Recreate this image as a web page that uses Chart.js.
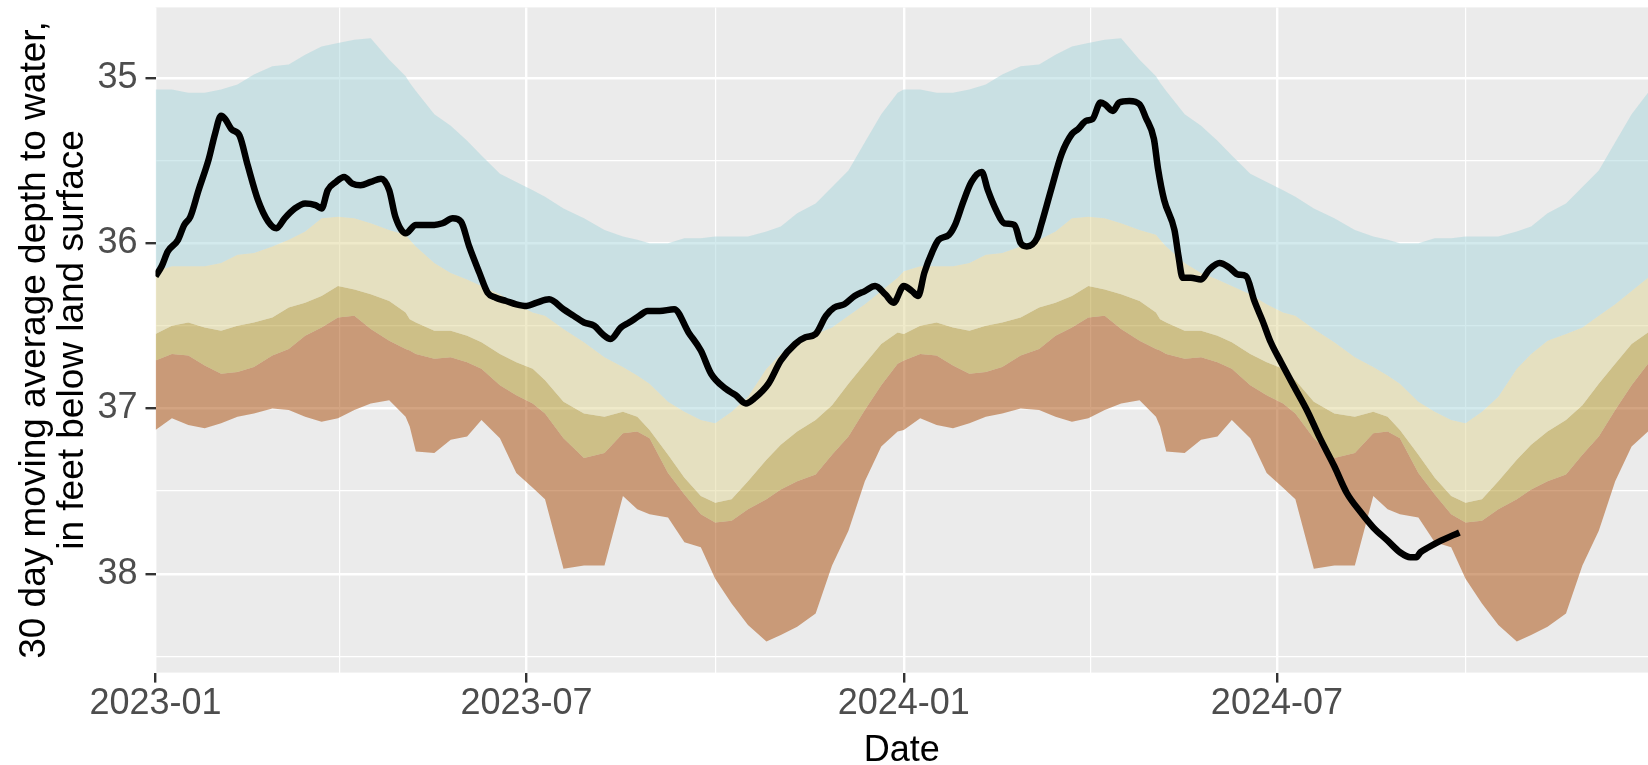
<!DOCTYPE html>
<html>
<head>
<meta charset="utf-8">
<title>Depth to water</title>
<script src="https://cdn.jsdelivr.net/npm/chart.js@4.4.0/dist/chart.umd.min.js"></script>
<style>
    html, body { margin: 0; padding: 0; background: #ffffff; }
    #wrap { width: 1648px; height: 765px; }
</style>
</head>
<body>
<div id="wrap"><canvas id="depthChart" width="1648" height="765"></canvas></div>
<script>
// 30 day moving average depth to water, against the historical bands

// dates shared by the band edges
const bandDates = [
    '2023-01-01','2023-01-09','2023-01-17','2023-01-25','2023-02-02','2023-02-10','2023-02-18','2023-02-27',
    '2023-03-07','2023-03-15','2023-03-23','2023-03-31','2023-04-08','2023-04-16','2023-04-25','2023-05-03',
    '2023-05-05','2023-05-08','2023-05-17','2023-05-25','2023-06-02','2023-06-09','2023-06-18','2023-06-26',
    '2023-07-04','2023-07-10','2023-07-19','2023-07-29','2023-08-08','2023-08-17','2023-08-24','2023-08-30',
    '2023-09-08','2023-09-16','2023-09-24','2023-10-01','2023-10-09','2023-10-17','2023-10-26','2023-11-02',
    '2023-11-10','2023-11-19','2023-11-27','2023-12-05','2023-12-13','2023-12-21','2023-12-29',
    '2024-01-01','2024-01-09','2024-01-17','2024-01-25','2024-02-02','2024-02-10','2024-02-18','2024-02-27',
    '2024-03-07','2024-03-15','2024-03-23','2024-03-31','2024-04-08','2024-04-16','2024-04-25','2024-05-03',
    '2024-05-05','2024-05-08','2024-05-17','2024-05-25','2024-06-02','2024-06-09','2024-06-18','2024-06-26',
    '2024-07-04','2024-07-10','2024-07-19','2024-07-29','2024-08-08','2024-08-17','2024-08-24','2024-08-30',
    '2024-09-08','2024-09-16','2024-09-24','2024-10-01','2024-10-09','2024-10-17','2024-10-26','2024-11-02',
    '2024-11-10','2024-11-19','2024-11-27','2024-12-05','2024-12-13','2024-12-21','2024-12-29'
];

// top of the blue band
const edgeA = [
    35.07, 35.07, 35.09, 35.09, 35.07, 35.04, 34.98, 34.93, 34.92, 34.86, 34.81, 34.79, 34.77, 34.76, 34.89, 34.99,
    35.03, 35.08, 35.22, 35.29, 35.38, 35.47, 35.58, 35.63, 35.68, 35.72, 35.79, 35.85, 35.92, 35.96, 35.98, 36.00,
    36.00, 35.97, 35.97, 35.96, 35.96, 35.96, 35.93, 35.90, 35.82, 35.76, 35.66, 35.56, 35.39, 35.22, 35.09,
    35.07, 35.07, 35.09, 35.09, 35.07, 35.04, 34.98, 34.93, 34.92, 34.86, 34.81, 34.79, 34.77, 34.76, 34.89, 34.99,
    35.03, 35.08, 35.22, 35.29, 35.38, 35.47, 35.58, 35.63, 35.68, 35.72, 35.79, 35.85, 35.92, 35.96, 35.98, 36.00,
    36.00, 35.97, 35.97, 35.96, 35.96, 35.96, 35.93, 35.90, 35.82, 35.76, 35.66, 35.56, 35.39, 35.22, 35.09
];
// blue / tan edge
const edgeB = [
    36.17, 36.14, 36.14, 36.14, 36.12, 36.07, 36.06, 36.02, 35.98, 35.93, 35.85, 35.84, 35.85, 35.88, 35.92, 35.95,
    35.98, 36.02, 36.12, 36.18, 36.22, 36.26, 36.31, 36.37, 36.42, 36.44, 36.52, 36.60, 36.69, 36.75, 36.80, 36.85,
    36.96, 37.02, 37.07, 37.09, 37.02, 36.93, 36.76, 36.67, 36.59, 36.55, 36.51, 36.44, 36.37, 36.29, 36.21,
    36.17, 36.14, 36.14, 36.14, 36.12, 36.07, 36.06, 36.02, 35.98, 35.93, 35.85, 35.84, 35.85, 35.88, 35.92, 35.95,
    35.98, 36.02, 36.12, 36.18, 36.22, 36.26, 36.31, 36.37, 36.42, 36.44, 36.52, 36.60, 36.69, 36.75, 36.80, 36.85,
    36.96, 37.02, 37.07, 37.09, 37.02, 36.93, 36.76, 36.67, 36.59, 36.55, 36.51, 36.44, 36.37, 36.29, 36.21
];
// tan / olive edge
const edgeC = [
    36.55, 36.50, 36.48, 36.51, 36.53, 36.50, 36.48, 36.45, 36.39, 36.36, 36.32, 36.26, 36.28, 36.31, 36.35, 36.42,
    36.46, 36.48, 36.53, 36.53, 36.56, 36.60, 36.67, 36.72, 36.76, 36.83, 36.96, 37.03, 37.05, 37.02, 37.05, 37.13,
    37.28, 37.42, 37.53, 37.57, 37.55, 37.44, 37.31, 37.22, 37.14, 37.07, 36.98, 36.85, 36.73, 36.61, 36.54,
    36.55, 36.50, 36.48, 36.51, 36.53, 36.50, 36.48, 36.45, 36.39, 36.36, 36.32, 36.26, 36.28, 36.31, 36.35, 36.42,
    36.46, 36.48, 36.53, 36.53, 36.56, 36.60, 36.67, 36.72, 36.76, 36.83, 36.96, 37.03, 37.05, 37.02, 37.05, 37.13,
    37.28, 37.42, 37.53, 37.57, 37.55, 37.44, 37.31, 37.22, 37.14, 37.07, 36.98, 36.85, 36.73, 36.61, 36.54
];
// olive / brown edge
const edgeD = [
    36.71, 36.67, 36.68, 36.74, 36.79, 36.78, 36.75, 36.68, 36.64, 36.56, 36.51, 36.45, 36.44, 36.52, 36.59, 36.64,
    36.65, 36.67, 36.70, 36.69, 36.72, 36.76, 36.86, 36.92, 36.97, 37.03, 37.18, 37.30, 37.27, 37.15, 37.14, 37.18,
    37.39, 37.52, 37.64, 37.69, 37.68, 37.61, 37.55, 37.49, 37.44, 37.40, 37.28, 37.17, 37.01, 36.86, 36.73,
    36.71, 36.67, 36.68, 36.74, 36.79, 36.78, 36.75, 36.68, 36.64, 36.56, 36.51, 36.45, 36.44, 36.52, 36.59, 36.64,
    36.65, 36.67, 36.70, 36.69, 36.72, 36.76, 36.86, 36.92, 36.97, 37.03, 37.18, 37.30, 37.27, 37.15, 37.14, 37.18,
    37.39, 37.52, 37.64, 37.69, 37.68, 37.61, 37.55, 37.49, 37.44, 37.40, 37.28, 37.17, 37.01, 36.86, 36.73
];
// bottom of the brown band
const edgeE = [
    37.13, 37.06, 37.10, 37.12, 37.09, 37.05, 37.03, 37.00, 37.01, 37.05, 37.08, 37.06, 37.01, 36.97, 36.95, 37.05,
    37.11, 37.26, 37.27, 37.19, 37.17, 37.07, 37.18, 37.39, 37.48, 37.55, 37.97, 37.95, 37.95, 37.53, 37.61, 37.64,
    37.66, 37.81, 37.84, 38.03, 38.18, 38.31, 38.41, 38.37, 38.32, 38.24, 37.95, 37.74, 37.44, 37.23, 37.14,
    37.13, 37.06, 37.10, 37.12, 37.09, 37.05, 37.03, 37.00, 37.01, 37.05, 37.08, 37.06, 37.01, 36.97, 36.95, 37.05,
    37.11, 37.26, 37.27, 37.19, 37.17, 37.07, 37.18, 37.39, 37.48, 37.55, 37.97, 37.95, 37.95, 37.53, 37.61, 37.64,
    37.66, 37.81, 37.84, 38.03, 38.18, 38.31, 38.41, 38.37, 38.32, 38.24, 37.95, 37.74, 37.44, 37.23, 37.14
];

// observed 30 day moving average
const lineDates = [
    '2023-01-01','2023-01-04','2023-01-07','2023-01-12','2023-01-15','2023-01-18','2023-01-22','2023-01-27',
    '2023-01-30','2023-02-02','2023-02-04','2023-02-07','2023-02-11','2023-02-15','2023-02-20','2023-02-25',
    '2023-03-01','2023-03-05','2023-03-10','2023-03-15','2023-03-20','2023-03-23','2023-03-26','2023-03-30',
    '2023-04-03','2023-04-07','2023-04-11','2023-04-16','2023-04-21','2023-04-25','2023-04-28','2023-05-03',
    '2023-05-08','2023-05-17','2023-05-21','2023-05-26','2023-05-30','2023-06-03','2023-06-08','2023-06-12',
    '2023-06-16','2023-06-21','2023-06-26','2023-07-01','2023-07-06','2023-07-12','2023-07-19','2023-07-24',
    '2023-07-29','2023-08-03','2023-08-07','2023-08-11','2023-08-16','2023-08-20','2023-08-25','2023-08-29',
    '2023-09-04','2023-09-11','2023-09-18','2023-09-24','2023-09-29','2023-10-06','2023-10-11','2023-10-16',
    '2023-10-20','2023-10-27','2023-11-02','2023-11-09','2023-11-14','2023-11-19','2023-11-24','2023-11-28',
    '2023-12-03','2023-12-08','2023-12-13','2023-12-18','2023-12-23','2023-12-27','2024-01-01','2024-01-05',
    '2024-01-08','2024-01-11','2024-01-15','2024-01-18','2024-01-23','2024-01-26','2024-01-30','2024-02-03',
    '2024-02-08','2024-02-11','2024-02-15','2024-02-19','2024-02-24','2024-02-27','2024-03-01','2024-03-06',
    '2024-03-08','2024-03-13','2024-03-18','2024-03-23','2024-03-26','2024-03-30','2024-04-02','2024-04-06',
    '2024-04-08','2024-04-12','2024-04-15','2024-04-20','2024-04-25','2024-04-28','2024-05-02','2024-05-04',
    '2024-05-07','2024-05-12','2024-05-14','2024-05-16','2024-05-20','2024-05-25','2024-05-29','2024-06-03',
    '2024-06-08','2024-06-12','2024-06-16','2024-06-20','2024-06-24','2024-06-28','2024-07-03','2024-07-09',
    '2024-07-16','2024-07-22','2024-07-29','2024-08-04','2024-08-11','2024-08-17','2024-08-24','2024-08-30',
    '2024-09-04','2024-09-07','2024-09-09','2024-09-13','2024-09-19','2024-09-28'
];
const lineValues = [
    36.20, 36.14, 36.05, 35.98, 35.89, 35.84, 35.68, 35.49,
    35.34, 35.23, 35.25, 35.31, 35.35, 35.53, 35.74, 35.87,
    35.91, 35.85, 35.79, 35.76, 35.77, 35.79, 35.68, 35.63,
    35.60, 35.64, 35.65, 35.63, 35.61, 35.68, 35.84, 35.94,
    35.89, 35.89, 35.88, 35.85, 35.87, 36.02, 36.18, 36.30,
    36.33, 36.35, 36.37, 36.38, 36.36, 36.34, 36.40, 36.44,
    36.48, 36.50, 36.55, 36.58, 36.51, 36.48, 36.44, 36.41,
    36.41, 36.40, 36.54, 36.65, 36.79, 36.88, 36.92, 36.97,
    36.94, 36.85, 36.71, 36.61, 36.57, 36.55, 36.44, 36.39,
    36.37, 36.32, 36.29, 36.26, 36.31, 36.36, 36.26, 36.29,
    36.32, 36.18, 36.05, 35.98, 35.95, 35.89, 35.75, 35.63,
    35.57, 35.68, 35.80, 35.88, 35.89, 36.00, 36.02, 35.97,
    35.89, 35.67, 35.46, 35.34, 35.31, 35.26, 35.25, 35.15,
    35.16, 35.20, 35.15, 35.14, 35.16, 35.24, 35.37, 35.55,
    35.74, 35.92, 36.08, 36.21, 36.21, 36.22, 36.16, 36.12,
    36.15, 36.19, 36.20, 36.35, 36.47, 36.60, 36.72, 36.86,
    37.02, 37.18, 37.35, 37.51, 37.63, 37.72, 37.80, 37.87,
    37.90, 37.90, 37.87, 37.84, 37.80, 37.75
];

// axis breaks
const xTickDates = ['2023-01-01','2023-04-01','2023-07-01','2023-10-01','2024-01-01','2024-04-01','2024-07-01','2024-10-01'];
const xTickLabels = ['2023-01','','2023-07','','2024-01','','2024-07',''];
const yTickValues = [35, 35.5, 36, 36.5, 37, 37.5, 38, 38.5];
const yTickLabels = ['35','','36','','37','','38',''];

// days since 2023-01-01
function dayNum(s) {
    const p = s.split('-').map(Number);
    return (Date.UTC(p[0], p[1] - 1, p[2]) - Date.UTC(2023, 0, 1)) / 86400000;
}

function toPoints(dates, vals) {
    return dates.map((d, i) => ({ x: dayNum(d), y: vals[i] }));
}

const xTicks = xTickDates.map(dayNum);

const panelBg = {
    id: 'panelBg',
    beforeDraw(chart) {
        const a = chart.chartArea;
        const ctx = chart.ctx;
        ctx.save();
        ctx.fillStyle = '#ffffff';
        ctx.fillRect(0, 0, chart.width, chart.height);
        ctx.fillStyle = '#EBEBEB';
        ctx.fillRect(a.left, a.top, a.right - a.left, a.bottom - a.top);
        ctx.restore();
    }
};

function band(vals, color) {
    return {
        data: toPoints(bandDates, vals),
        backgroundColor: color,
        borderColor: 'rgba(0,0,0,0)',
        borderWidth: 0,
        pointRadius: 0,
        tension: 0,
        fill: color ? '+1' : false
    };
}

const fontFamily = '"Liberation Sans", Arial, Helvetica, sans-serif';

document.addEventListener('DOMContentLoaded', function() {
    const ctx = document.getElementById('depthChart');
    new Chart(ctx, {
        type: 'line',
        data: {
            datasets: [
                band(edgeA, 'rgba(167, 213, 219, 0.5)'),
                band(edgeB, 'rgba(223, 213, 149, 0.5)'),
                band(edgeC, 'rgba(175, 147, 35, 0.5)'),
                band(edgeD, 'rgba(167, 73, 5, 0.5)'),
                band(edgeE, null),
                {
                    data: toPoints(lineDates, lineValues),
                    borderColor: '#000000',
                    borderWidth: 6.5,
                    pointRadius: 0,
                    fill: false,
                    cubicInterpolationMode: 'monotone',
                    borderJoinStyle: 'round',
                    borderCapStyle: 'butt',
                    order: -1
                }
            ]
        },
        options: {
            responsive: false,
            animation: false,
            events: [],
            layout: { padding: { top: 7.4, right: 0, bottom: 0, left: 0 } },
            plugins: {
                legend: { display: false },
                tooltip: { enabled: false }
            },
            scales: {
                x: {
                    type: 'linear',
                    min: 0,
                    max: 728,
                    afterBuildTicks: (scale) => { scale.ticks = xTicks.map(v => ({ value: v })); },
                    afterFit: (scale) => {
                        scale.height = 92.4;
                        scale.paddingLeft = 0;
                        scale.paddingRight = 0;
                    },
                    border: { display: false },
                    grid: {
                        color: '#ffffff',
                        lineWidth: (c) => (c.index % 2 === 0 ? 2.4 : 1.2),
                        drawTicks: true,
                        tickLength: 10,
                        tickWidth: 2.4,
                        tickColor: (c) => (c.index % 2 === 0 ? '#333333' : 'rgba(0,0,0,0)')
                    },
                    ticks: {
                        autoSkip: false,
                        maxRotation: 0,
                        padding: 3,
                        color: '#4D4D4D',
                        font: { family: fontFamily, size: 36, lineHeight: 1 },
                        callback: (v, i) => xTickLabels[i]
                    },
                    title: {
                        display: true,
                        text: 'Date',
                        color: '#000000',
                        padding: { top: 0, bottom: 0 },
                        font: { family: fontFamily, size: 36, lineHeight: 0.77 }
                    }
                },
                y: {
                    type: 'linear',
                    reverse: true,
                    min: 34.574,
                    max: 38.598,
                    afterBuildTicks: (scale) => { scale.ticks = yTickValues.map(v => ({ value: v })); },
                    afterFit: (scale) => {
                        scale.width = 155.5;
                        scale.paddingTop = 0;
                        scale.paddingBottom = 0;
                    },
                    border: { display: false },
                    grid: {
                        color: '#ffffff',
                        lineWidth: (c) => (c.index % 2 === 0 ? 2.4 : 1.2),
                        drawTicks: true,
                        tickLength: 10,
                        tickWidth: 2.4,
                        tickColor: (c) => (c.index % 2 === 0 ? '#333333' : 'rgba(0,0,0,0)')
                    },
                    ticks: {
                        padding: 8,
                        color: '#4D4D4D',
                        font: { family: fontFamily, size: 36, lineHeight: 1 },
                        callback: (v, i) => yTickLabels[i]
                    },
                    title: {
                        display: true,
                        text: ['30 day moving average depth to water,', 'in feet below land surface'],
                        color: '#000000',
                        padding: { top: 15, bottom: 0 },
                        font: { family: fontFamily, size: 37, lineHeight: 1.05 }
                    }
                }
            }
        },
        plugins: [panelBg]
    });
});
</script>
</body>
</html>
